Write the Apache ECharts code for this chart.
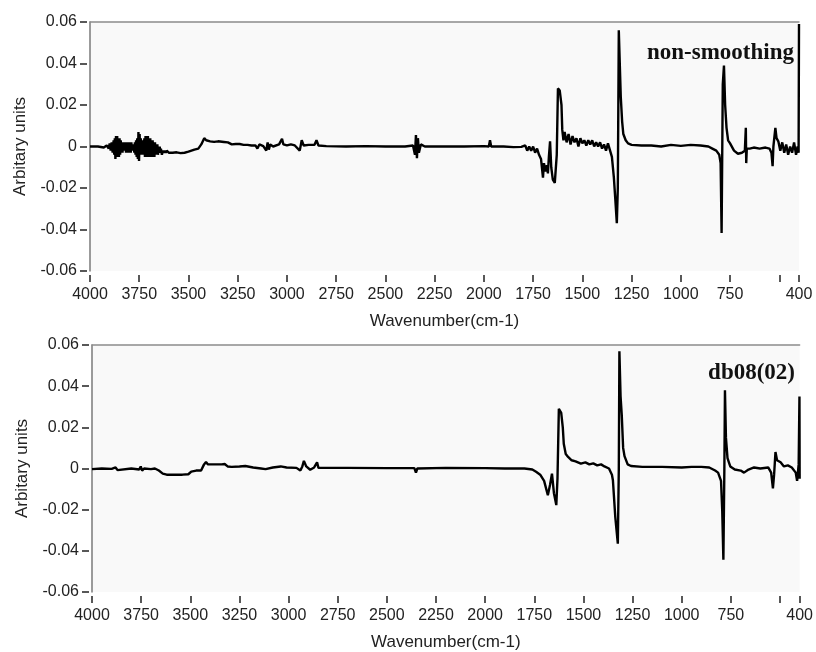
<!DOCTYPE html>
<html>
<head>
<meta charset="utf-8">
<script src="https://cdn.jsdelivr.net/npm/echarts@6/dist/echarts.min.js"></script>
<style>
  html, body { margin: 0; padding: 0; background: #ffffff; }
  #chart { width: 816px; height: 652px; }
</style>
</head>
<body>
<div id="chart"></div>
<script>
// Difference spectra: raw and smoothed (db08 level 2 wavelet)
const panelTitles = ['non-smoothing', 'db08(02)'];
const xAxisTitle = 'Wavenumber(cm-1)';
const yAxisTitle = 'Arbitary units';

const xTickValues = [4000, 3750, 3500, 3250, 3000, 2750, 2500, 2250, 2000, 1750, 1500, 1250, 1000, 750, 500, 400];
const xLabelValues = [4000, 3750, 3500, 3250, 3000, 2750, 2500, 2250, 2000, 1750, 1500, 1250, 1000, 750, 400];

// Raw (non-smoothed) spectrum
const rawWave = [
  4000, 3960, 3930, 3915, 3905, 3900, 3895, 3890, 3885, 3880, 3877, 3874, 3871, 3868, 3865, 3862, 3859, 3856, 3853, 3850,
  3847, 3844, 3841, 3838, 3835, 3832, 3829, 3826, 3823, 3820, 3817, 3814, 3811, 3808, 3805, 3802, 3799, 3796, 3793, 3790,
  3787, 3784, 3781, 3778, 3775, 3772, 3769, 3766, 3763, 3760, 3757, 3754, 3751, 3748, 3745, 3742, 3739, 3736, 3733, 3730,
  3727, 3724, 3721, 3718, 3715, 3712, 3709, 3706, 3703, 3700, 3697, 3694, 3691, 3688, 3685, 3682, 3679, 3676, 3673, 3670,
  3667, 3664, 3661, 3658, 3655, 3652, 3649, 3646, 3643, 3640, 3635, 3630, 3625, 3620, 3615, 3610, 3600,
  3580, 3560, 3540, 3520, 3500, 3490, 3470, 3450, 3435, 3420, 3410, 3390, 3370, 3350, 3340, 3320, 3300, 3280,
  3260, 3240, 3220, 3200, 3180, 3160, 3150, 3140, 3120, 3105, 3098, 3092, 3085, 3070, 3040, 3025, 3018, 3000, 2980, 2960,
  2935, 2925, 2915, 2890, 2860, 2850, 2840, 2800, 2700, 2600, 2500, 2400, 2360, 2350, 2345, 2340, 2335, 2330, 2320, 2300,
  2200, 2100, 2000, 1975, 1969, 1963, 1900, 1850, 1810, 1800, 1790, 1780, 1770, 1760, 1750, 1740, 1730, 1720, 1710, 1700,
  1695, 1688, 1680, 1675, 1670, 1664, 1658, 1650, 1640, 1630, 1624, 1615, 1606, 1602, 1596, 1590, 1580, 1570, 1560, 1550,
  1540, 1530, 1520, 1510, 1500, 1490, 1480, 1470, 1460, 1450, 1440, 1430, 1420, 1410, 1400, 1390, 1380, 1370, 1360, 1350,
  1340, 1333, 1325, 1320, 1315, 1310, 1305, 1298, 1292, 1280, 1268, 1250, 1200, 1150, 1100, 1050, 1000, 950, 900, 860,
  840, 820, 805, 798, 793, 787, 781, 775, 768, 760, 750, 730, 710, 690, 675, 670, 668, 665, 650, 630,
  600, 570, 550, 540, 534, 530, 520, 514, 505, 495, 485, 475, 465, 455, 445, 435, 425, 415, 407, 402,
  400
];
const rawAbs = [
  0, 0, -0.0005, 0.0005, -0.001, 0.0015, -0.002, 0.002, -0.003, 0.003, -0.004, 0.004, -0.006, 0.005, -0.004, 0.005, -0.005, 0.003, -0.005, 0.004,
  -0.004, 0.003, -0.003, 0.002, -0.003, 0.002, -0.002, 0.001, -0.002, 0.002, -0.003, 0.001, -0.002, 0.002, -0.003, 0.002, -0.002, 0.001, -0.003, 0.002,
  -0.002, 0.001, -0.002, 0.001, -0.003, 0.002, -0.004, 0.003, -0.005, 0.004, -0.006, 0.007, -0.007, 0.006, -0.004, 0.004, -0.003, 0.002, -0.004, 0.003,
  -0.004, 0.004, -0.005, 0.005, -0.004, 0.004, -0.005, 0.005, -0.004, 0.003, -0.005, 0.004, -0.004, 0.003, -0.005, 0.003, -0.004, 0.002, -0.005, 0.002,
  -0.004, 0.001, -0.004, 0.001, -0.004, 0.0, -0.003, 0.0, -0.003, -0.001, -0.004, -0.002, -0.003, -0.002, -0.003, -0.002, -0.003,
  -0.003, -0.0028, -0.0032, -0.003, -0.0025, -0.002, -0.0015, -0.001, 0.001, 0.004, 0.003, 0.0025, 0.0022, 0.0025, 0.003, 0.0022, 0.002, 0.001,
  0.0012, 0.0012, 0.0008, 0.0008, 0.0005, 0.0005, -0.001, 0.001, 0.0002, -0.002, 0.002, -0.0015, 0.001, 0.0, 0.001, 0.0037, 0.001, 0.0005, 0.001, 0.0005,
  -0.002, 0.003, 0.0005, 0.0008, 0.0008, 0.003, 0.0005, 0.0002, 0.0, 0.0002, 0.0, 0.0, 0.0005, -0.004, 0.0055, -0.0056, 0.004, -0.003, 0.001, 0.0,
  0.0, 0.0, 0.0002, 0.0, 0.003, 0.0, 0.0, -0.0003, -0.0002, -0.001, 0.0005, -0.002, 0.0, -0.002, 0.0, -0.003, -0.001, -0.004, -0.006, -0.015,
  -0.008, -0.012, -0.009, -0.013, -0.005, 0.0025, -0.01, -0.016, -0.0175, -0.004, 0.028, 0.027, 0.02, 0.008, 0.003, 0.007, 0.002, 0.006, 0.001, 0.005,
  0.002, 0.004, 0.0, 0.004, 0.0015, 0.003, 0.0005, 0.003, 0.001, 0.003, 0.0, 0.002, 0.0, 0.002, -0.001, 0.001, -0.002, 0.0015, 0.001, -0.005,
  -0.015, -0.025, -0.037, -0.02, 0.056, 0.04, 0.024, 0.012, 0.006, 0.003, 0.0015, 0.0008, 0.0005, 0.0005, 0.0, 0.0008, 0.0003, 0.0008, 0.0005, 0.0,
  -0.001, -0.002, -0.004, -0.008, -0.0417, 0.03, 0.039, 0.02, 0.009, 0.003, 0.0015, -0.002, -0.0035, -0.003, -0.002, 0.009, -0.008, -0.001, -0.001, -0.0005,
  -0.001, -0.0005, -0.001, -0.003, -0.0095, 0.0, 0.009, 0.004, 0.0025, -0.002, 0.002, -0.003, 0.001, -0.004, 0.0, -0.003, 0.002, -0.004, 0.0, -0.003,
  0.059
];

// Smoothed spectrum (Daubechies 8, level 2)
const smoothWave = [
  4000, 3950, 3900, 3880, 3870, 3860, 3800, 3760, 3752, 3745, 3735, 3700, 3680, 3660, 3640, 3620, 3580, 3540, 3510, 3495,
  3470, 3445, 3430, 3420, 3410, 3370, 3340, 3325, 3310, 3290, 3250, 3220, 3180, 3140, 3117, 3080, 3040, 3010, 2960, 2940,
  2930, 2922, 2910, 2890, 2870, 2855, 2848, 2700, 2500, 2360, 2352, 2345, 2200, 2000, 1900, 1800, 1760, 1741, 1720, 1700,
  1681, 1670, 1660, 1650, 1638, 1632, 1625, 1613, 1605, 1600, 1590, 1578, 1560, 1540, 1513, 1490, 1470, 1450, 1430, 1410,
  1393, 1370, 1355, 1350, 1338, 1325, 1320, 1317, 1311, 1305, 1298, 1291, 1275, 1258, 1200, 1100, 1000, 950, 900, 860,
  830, 815, 800, 794, 788, 783, 780, 775, 767, 760, 753, 730, 700, 683, 660, 632, 600, 560, 545, 536,
  530, 523, 515, 497, 480, 460, 440, 430, 420, 413, 405, 401, 400
];
const smoothAbs = [
  -0.0003, 0.0, -0.0002, 0.0005, -0.0008, 0.0, 0.0, -0.0005, 0.001, -0.001, 0.0, -0.0003, 0.0, -0.001, -0.0025, -0.003, -0.003, -0.003, -0.0028, -0.0015,
  -0.001, -0.001, 0.002, 0.0032, 0.002, 0.002, 0.002, 0.0022, 0.001, 0.0008, 0.001, 0.0012, 0.0005, 0.0, -0.0003, 0.0005, 0.001, 0.0005, 0.0003, -0.001,
  0.001, 0.0037, 0.001, -0.0006, 0.0005, 0.003, 0.0003, 0.0003, 0.0002, 0.0002, -0.002, 0.0, 0.0003, 0.0002, 0.0, 0.0, -0.0005, -0.0016, -0.003, -0.006,
  -0.013, -0.008, -0.0025, -0.012, -0.0178, -0.005, 0.029, 0.027, 0.02, 0.012, 0.007, 0.0056, 0.004, 0.0035, 0.0024, 0.003, 0.002, 0.0025, 0.0015, 0.002,
  0.001, 0.0, -0.003, -0.0057, -0.0235, -0.0365, 0.0, 0.057, 0.035, 0.026, 0.01, 0.006, 0.002, 0.0012, 0.0008, 0.0008, 0.0005, 0.0008, 0.0008, 0.0005,
  -0.001, -0.002, -0.006, -0.02, -0.0443, 0.0, 0.038, 0.015, 0.005, 0.003, 0.001, -0.0005, -0.001, -0.002, -0.0005, 0.0005, 0.0, 0.0005, -0.002, -0.0097,
  -0.003, 0.008, 0.004, 0.003, 0.001, 0.0015, 0.0005, 0.0005, -0.002, -0.006, 0.002, 0.035, -0.005
];

const yMin = -0.06, yMax = 0.06, yStep = 0.02;

const pair = (w, a) => w.map((x, i) => [x, a[i]]);

const tickFont = { fontFamily: 'Liberation Sans', fontSize: 16, color: '#222' };
const nameFont = { fontFamily: 'Liberation Sans', fontSize: 17, color: '#222' };

// Geometry of the two stacked panels
const panels = [
  { left: 90, right: 17, top: 22, height: 249 },
  { left: 92, right: 14, top: 345, height: 248 }
];

const grids = panels.map(p => ({
  left: p.left, right: p.right, top: p.top, height: p.height,
  show: true, backgroundColor: '#f9f9f9', borderWidth: 0
}));

const xAxes = [];
const yAxes = [];
panels.forEach((p, i) => {
  // value axis with ticks below the frame
  xAxes.push({
    gridIndex: i, type: 'value', inverse: true, min: 400, max: 4000,
    position: 'bottom', offset: 4,
    axisLine: { show: false, onZero: false },
    axisTick: { show: true, customValues: xTickValues, length: 7, lineStyle: { color: '#222', width: 1.5 } },
    axisLabel: { show: true, customValues: xLabelValues, margin: 12, formatter: v => String(v), ...tickFont },
    splitLine: { show: false },
    name: xAxisTitle, nameLocation: 'middle', nameGap: 38,
    nameTextStyle: nameFont
  });
  // top frame edge
  xAxes.push({
    gridIndex: i, type: 'value', min: 400, max: 4000, position: 'top',
    axisLine: { show: true, onZero: false, lineStyle: { color: '#8c8c8c', width: 1.5 } },
    axisTick: { show: false }, axisLabel: { show: false }, splitLine: { show: false }
  });
  yAxes.push({
    gridIndex: i, type: 'value', min: yMin, max: yMax, interval: yStep,
    position: 'left', offset: 3,
    axisLine: { show: false, onZero: false },
    axisTick: { show: true, length: 7, lineStyle: { color: '#222', width: 1.5 } },
    axisLabel: { margin: 10, formatter: v => String(+v.toFixed(2)), ...tickFont },
    splitLine: { show: false },
    name: yAxisTitle, nameLocation: 'middle', nameGap: 58,
    nameTextStyle: nameFont
  });
  // left frame edge
  yAxes.push({
    gridIndex: i, type: 'value', min: yMin, max: yMax, position: 'left',
    axisLine: { show: true, onZero: false, lineStyle: { color: '#7a7a7a', width: 1.5 } },
    axisTick: { show: false }, axisLabel: { show: false }, splitLine: { show: false }
  });
});

const chart = echarts.init(document.getElementById('chart'), null, { renderer: 'canvas' });
chart.setOption({
  animation: false,
  backgroundColor: '#ffffff',
  grid: grids,
  xAxis: xAxes,
  yAxis: yAxes,
  title: panels.map((p, i) => ({
    text: panelTitles[i],
    right: p.right + (i === 0 ? 0 : 2),
    top: p.top + (i === 0 ? 15 : 12),
    textStyle: { fontFamily: 'Liberation Serif', fontWeight: 'bold', fontSize: 23, color: '#111' }
  })),
  series: [
    {
      type: 'line', name: panelTitles[0], xAxisIndex: 0, yAxisIndex: 0,
      data: pair(rawWave, rawAbs), showSymbol: false, symbol: 'none',
      lineStyle: { color: '#000', width: 2.4 }
    },
    {
      type: 'line', name: panelTitles[1], xAxisIndex: 2, yAxisIndex: 2,
      data: pair(smoothWave, smoothAbs), showSymbol: false, symbol: 'none',
      lineStyle: { color: '#000', width: 2.4 }
    }
  ]
});
</script>
</body>
</html>
